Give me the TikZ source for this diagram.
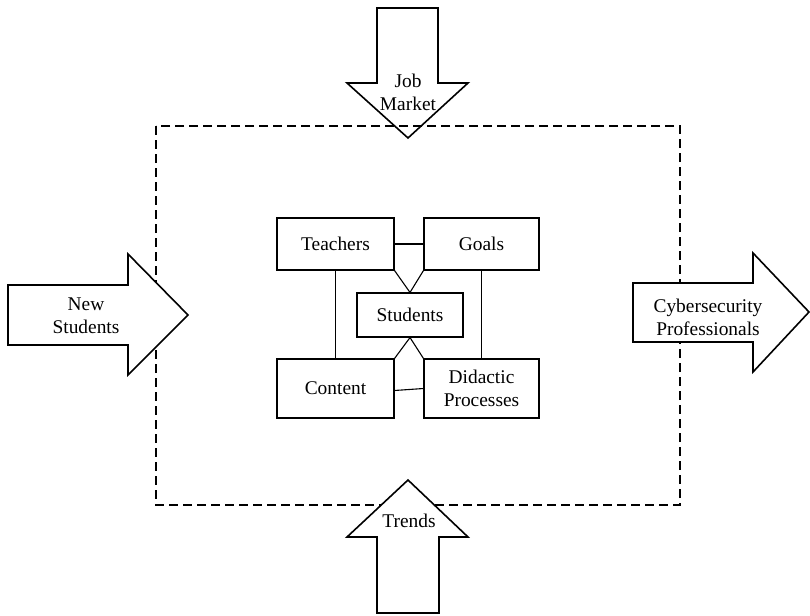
\documentclass[tikz,border=0pt]{standalone}
\usepackage{fontspec}
\setmainfont{Liberation Serif}
\begin{document}
\begin{tikzpicture}[x=1pt,y=-1pt,
  box/.style={draw,line width=1.1pt,minimum width=117pt,minimum height=52pt,inner sep=0pt,align=center},
  bigarrow/.style={draw,line width=1.6pt,line join=miter,fill=white},
  lbl/.style={align=center,inner sep=1pt},
  link/.style={line width=1.1pt},
  every node/.style={font=\fontsize{19.4}{23}\selectfont}]
\useasboundingbox (0,0) rectangle (810,615);
% dashed frame
\draw[line width=1.9pt,dash pattern=on 9pt off 5pt] (156,126) rectangle (680,505);
% arrows
\draw[bigarrow] (8,285) -- (128,285) -- (128,254) -- (188,315) -- (128,375) -- (128,345) -- (8,345) -- cycle;
\draw[bigarrow] (633,283) -- (753,283) -- (753,253) -- (809,312) -- (753,372) -- (753,342) -- (633,342) -- cycle;
\draw[bigarrow,fill=none] (377,8) -- (438,8) -- (438,83) -- (468,83) -- (408,138) -- (347,83) -- (377,83) -- cycle;
\draw[bigarrow] (377,613) -- (439,613) -- (439,537) -- (468,537) -- (408,480) -- (347,537) -- (377,537) -- cycle;
\node[lbl] (jm) at (408,92) {Job\\Market};
\node[lbl] (ns) at (86,316) {New\\Students};
\node[lbl] (cp) at (708,317) {Cybersecurity\\Professionals};
\node[lbl] (tr) at (409,521) {Trends};
% inner boxes
\node[box] (te) at (335.5,244) {Teachers};
\node[box,minimum width=115pt] (go) at (481.5,244) {Goals};
\node[box,minimum width=106pt,minimum height=44pt] (st) at (410,315) {Students};
\node[box,minimum height=59pt] (co) at (335.5,388.5) {Content};
\node[box,minimum width=115pt,minimum height=59pt] (di) at (481.5,388.5) {Didactic\\Processes};
% links
\draw[link] (te.east) -- (go.west);
\draw[link] (te.south east) -- (st.north) -- (go.south west);
\draw[link] (co.north east) -- (st.south) -- (di.north west);
\draw[link] (te.south) -- (co.north);
\draw[link] (go.south) -- (di.north);
\draw[link] ([yshift=-2pt]co.east) -- (di.west);
\end{tikzpicture}
\end{document}
